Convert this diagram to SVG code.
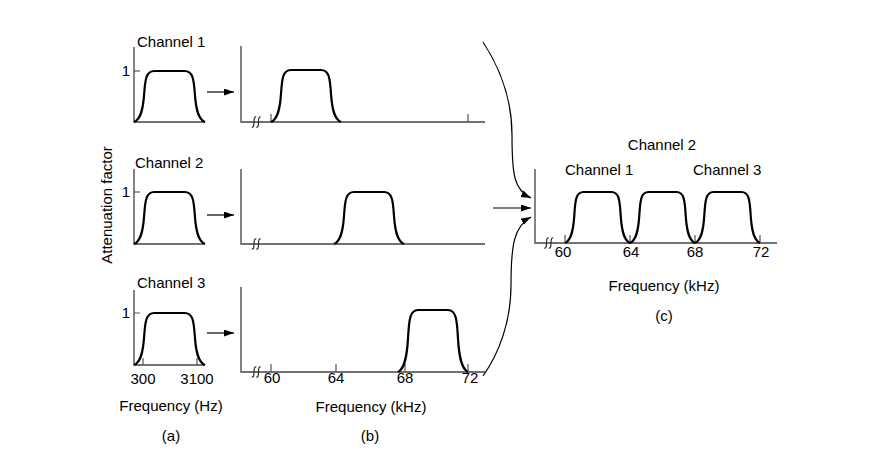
<svg xmlns="http://www.w3.org/2000/svg" width="887" height="462" viewBox="0 0 887 462">
<style>
text{font-family:"Liberation Sans",Arial,sans-serif;font-size:15px;fill:#000}
.ax{fill:none;stroke:#444;stroke-width:1.3}
.tk{fill:none;stroke:#555;stroke-width:1.2}
.pl{fill:none;stroke:#000;stroke-width:2.2;stroke-linejoin:round}
.br{fill:none;stroke:#222;stroke-width:1.1}
.ar{fill:none;stroke:#000;stroke-width:1.2}
.m{text-anchor:middle}
.e{text-anchor:end}
</style>
<defs>
<marker id="ah" markerUnits="userSpaceOnUse" markerWidth="11" markerHeight="8" refX="10" refY="3.5" orient="auto">
<path d="M0,0 L10,3.5 L0,7 z" fill="#000"/>
</marker>
</defs>
<rect width="887" height="462" fill="#fff"/>

<text transform="translate(112,205) rotate(-90)" class="m">Attenuation factor</text>

<g id="a1">
<text x="137" y="47">Channel 1</text>
<path class="ax" d="M134,47 V122 H205"/>
<path class="tk" d="M134,71 H140"/>
<text x="130" y="76" class="e">1</text>
<path class="pl" d="M134,122 C141.1,119.1 143.1,108.3 144.1,94.5 C145.2,78.8 146.2,71 154.3,71 L184.7,71 C192.8,71 193.8,78.8 194.9,94.5 C195.9,108.3 197.9,119.1 205,122"/>
</g>
<g id="a2">
<text x="135" y="168">Channel 2</text>
<path class="ax" d="M134,169 V244 H205"/>
<path class="tk" d="M134,192 H140"/>
<text x="130" y="197" class="e">1</text>
<path class="pl" d="M134,244 C141.1,241 143.1,230 144.1,216 C145.2,200 146.2,192 154.3,192 L184.7,192 C192.8,192 193.8,200 194.9,216 C195.9,230 197.9,241 205,244"/>
</g>
<g id="a3">
<text x="137" y="288">Channel 3</text>
<path class="ax" d="M134,290 V365 H205"/>
<path class="tk" d="M134,313 H140 M143,358 V365 M197,358 V365"/>
<text x="130" y="318" class="e">1</text>
<path class="pl" d="M134,365 C141.1,362 143.1,351 144.1,337 C145.2,321 146.2,313 154.3,313 L184.7,313 C192.8,313 193.8,321 194.9,337 C195.9,351 197.9,362 205,365"/>
<text x="143" y="384" class="m">300</text>
<text x="197" y="384" class="m">3100</text>
</g>
<g id="a-caption">
<text x="171" y="411" class="m">Frequency (Hz)</text>
<text x="171" y="441" class="m">(a)</text>
</g>

<g id="b1">
<path class="ax" d="M241,46 V122 H485"/>
<path class="br" d="M251.8,127 Q254,128 254,122 Q254,116 256.2,117 M256.3,127 Q258.5,128 258.5,122 Q258.5,116 260.7,117"/>
<path class="tk" d="M271,114 V122 M468,114 V122"/>
<path class="pl" d="M271,122 C278,119 280,108 281,94 C282,78 283,70 291,70 L321,70 C329,70 330,78 331,94 C332,108 334,119 341,122"/>
</g>
<g id="b2">
<path class="ax" d="M241,169 V244 H485"/>
<path class="br" d="M251.8,249 Q254,250 254,244 Q254,238 256.2,239 M256.3,249 Q258.5,250 258.5,244 Q258.5,238 260.7,239"/>
<path class="pl" d="M334,244 C341,241 343,230 344,216 C345,200 346,192 354,192 L384,192 C392,192 393,200 394,216 C395,230 397,241 404,244"/>
</g>
<g id="b3">
<path class="ax" d="M241,287 V372 H485"/>
<path class="br" d="M251.8,377 Q254,378 254,372 Q254,366 256.2,367 M256.3,377 Q258.5,378 258.5,372 Q258.5,366 260.7,367"/>
<path class="tk" d="M271,364 V372 M336,364 V372 M405,364 V372 M468,364 V372"/>
<path class="pl" d="M398,372 C405,368.4 407,355.3 408,338.6 C409,319.5 410,310 418,310 L448,310 C456,310 457,319.5 458,338.6 C459,355.3 461,368.4 468,372"/>
<text x="272" y="383" class="m">60</text>
<text x="336" y="383" class="m">64</text>
<text x="405" y="383" class="m">68</text>
<text x="470" y="383" class="m">72</text>
</g>
<g id="b-caption">
<text x="371" y="412" class="m">Frequency (kHz)</text>
<text x="370" y="441" class="m">(b)</text>
</g>

<g id="c">
<text x="662" y="150" class="m">Channel 2</text>
<text x="565" y="175">Channel 1</text>
<text x="693" y="175">Channel 3</text>
<path class="ax" d="M535,169 V243 H777"/>
<path class="br" d="M544.3,248 Q546.5,249 546.5,243 Q546.5,237 548.7,238 M548.8,248 Q551,249 551,243 Q551,237 553.2,238"/>
<path class="tk" d="M565,235 V243 M630,235 V243 M695,235 V243 M760,235 V243"/>
<path class="pl" d="M565,243 C571.5,240.1 573.4,229.3 574.3,215.5 C575.2,199.8 576.1,192 583.6,192 L611.4,192 C618.9,192 619.8,199.8 620.7,215.5 C621.6,229.3 623.5,240.1 630,243"/>
<path class="pl" d="M630,243 C636.5,240.1 638.4,229.3 639.3,215.5 C640.2,199.8 641.1,192 648.6,192 L676.4,192 C683.9,192 684.8,199.8 685.7,215.5 C686.6,229.3 688.5,240.1 695,243"/>
<path class="pl" d="M695,243 C701.5,240.1 703.4,229.3 704.3,215.5 C705.2,199.8 706.1,192 713.6,192 L741.4,192 C748.9,192 749.8,199.8 750.7,215.5 C751.6,229.3 753.5,240.1 760,243"/>
<text x="563" y="257" class="m">60</text>
<text x="631" y="257" class="m">64</text>
<text x="695" y="257" class="m">68</text>
<text x="761" y="257" class="m">72</text>
<text x="664" y="291" class="m">Frequency (kHz)</text>
<text x="664" y="321" class="m">(c)</text>
</g>

<g id="connectors">
<path class="ar" d="M207,92 H234" marker-end="url(#ah)"/>
<path class="ar" d="M207,215 H234" marker-end="url(#ah)"/>
<path class="ar" d="M207,333 H234" marker-end="url(#ah)"/>
<path class="ar" d="M483,42 C500,68 512,100 512,135 C512,175 514,190 531,198" marker-end="url(#ah)"/>
<path class="ar" d="M493,208 H531" marker-end="url(#ah)"/>
<path class="ar" d="M483,376 C500,352 511,320 511,285 C511,245 514,226 531,217" marker-end="url(#ah)"/>
</g>
</svg>
